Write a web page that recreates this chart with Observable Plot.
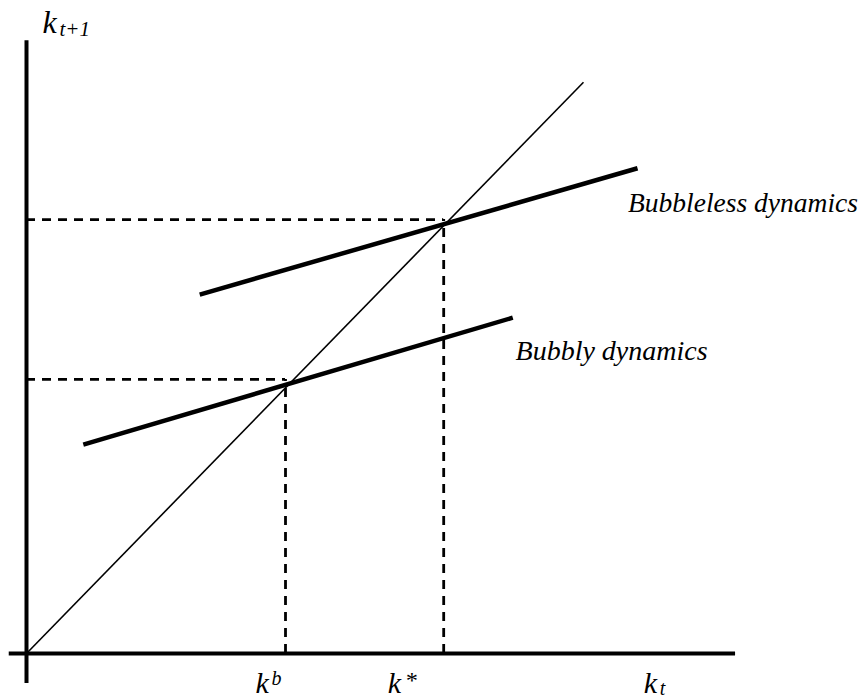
<!DOCTYPE html>
<html>
<head>
<meta charset="utf-8">
<script src="https://cdn.jsdelivr.net/npm/d3@7"></script>
<script src="https://cdn.jsdelivr.net/npm/@observablehq/plot@0.6"></script>
<style>
  html, body { margin: 0; padding: 0; background: #fff; overflow: hidden; }
</style>
</head>
<body>
<div id="chart"></div>
<script>
// 45-degree line k_{t+1} = k_t
const diagonal = [{k: 0, k1: 0}, {k: 10, k1: 9.9}];
// Bubbleless dynamics (upper thick line)
const bubbleless = [{k: 3.11, k1: 6.22}, {k: 10.97, k1: 8.41}];
// Bubbly dynamics (lower thick line)
const bubbly = [{k: 1.02, k1: 3.62}, {k: 8.73, k1: 5.82}];
// Steady states
const kStar = {k: 7.49, k1: 7.52};
const kBub = {k: 4.65, k1: 4.75};
// Axis extents
const xAxisExtent = [-0.31, 12.73];
const yAxisExtent = [-0.52, 10.62];
// Curve labels
const bubblelessLabel = [{k: 10.8, k1: 7.65, text: "Bubbleless dynamics"}];
const bubblyLabel = [{k: 8.78, k1: 5.08, text: "Bubbly dynamics"}];
// Axis labels (base letter + script)
const yLabel = [{k: 0, k1: yAxisExtent[1], base: "k", script: "t+1"}];
const kbLabel = [{k: kBub.k, k1: 0, base: "k", script: "b"}];
const ksLabel = [{k: kStar.k, k1: 0, base: "k", script: "*"}];
const xLabel = [{k: 11.08, k1: 0, base: "k", script: "t"}];

const serif = "'Liberation Serif', 'DejaVu Serif', serif";
const txt = (data, field, size, dx, dy) => Plot.text(data, {
  x: "k", y: "k1", text: field, textAnchor: "start", lineAnchor: "bottom",
  dx, dy, fontSize: size, fontStyle: "italic", fontFamily: serif, fill: "#000"
});
const dash = {stroke: "#000", strokeWidth: 2.8, strokeDasharray: "9,7"};

const plot = Plot.plot({
  width: 864,
  height: 700,
  margin: 0,
  x: {domain: [0, 10], range: [26, 583], axis: null},
  y: {domain: [0, 10], range: [653, 76], axis: null},
  style: {background: "#fff"},
  marks: [
    // axes
    Plot.ruleY([0], {x1: xAxisExtent[0], x2: xAxisExtent[1], stroke: "#000", strokeWidth: 4}),
    Plot.ruleX([0], {y1: yAxisExtent[0], y2: yAxisExtent[1], stroke: "#000", strokeWidth: 4}),
    // dashed guides
    Plot.ruleY([kStar], {y: "k1", x1: 0, x2: "k", ...dash}),
    Plot.ruleX([kStar], {x: "k", y1: 0, y2: "k1", ...dash}),
    Plot.ruleY([kBub], {y: "k1", x1: 0, x2: "k", ...dash}),
    Plot.ruleX([kBub], {x: "k", y1: 0, y2: "k1", ...dash}),
    // 45-degree line
    Plot.line(diagonal, {x: "k", y: "k1", stroke: "#000", strokeWidth: 1.6, strokeLinecap: "butt"}),
    // dynamics lines
    Plot.line(bubbleless, {x: "k", y: "k1", stroke: "#000", strokeWidth: 4.5, strokeLinecap: "butt"}),
    Plot.line(bubbly, {x: "k", y: "k1", stroke: "#000", strokeWidth: 4.5, strokeLinecap: "butt"}),
    // curve labels
    txt(bubblelessLabel, "text", 27.5, 0, 0),
    txt(bubblyLabel, "text", 28, 0, 0),
    // k_{t+1}
    txt(yLabel, "base", 32, 16, -8),
    txt(yLabel, "script", 21, 33, -5),
    // k^b
    txt(kbLabel, "base", 30, -30, 39),
    txt(kbLabel, "script", 20, -14, 31),
    // k^*
    txt(ksLabel, "base", 30, -56, 39),
    txt(ksLabel, "script", 24, -39, 34),
    // k_t
    txt(xLabel, "base", 30, 0, 39),
    txt(xLabel, "script", 20, 16, 41)
  ]
});

document.getElementById("chart").appendChild(plot);
</script>
</body>
</html>
